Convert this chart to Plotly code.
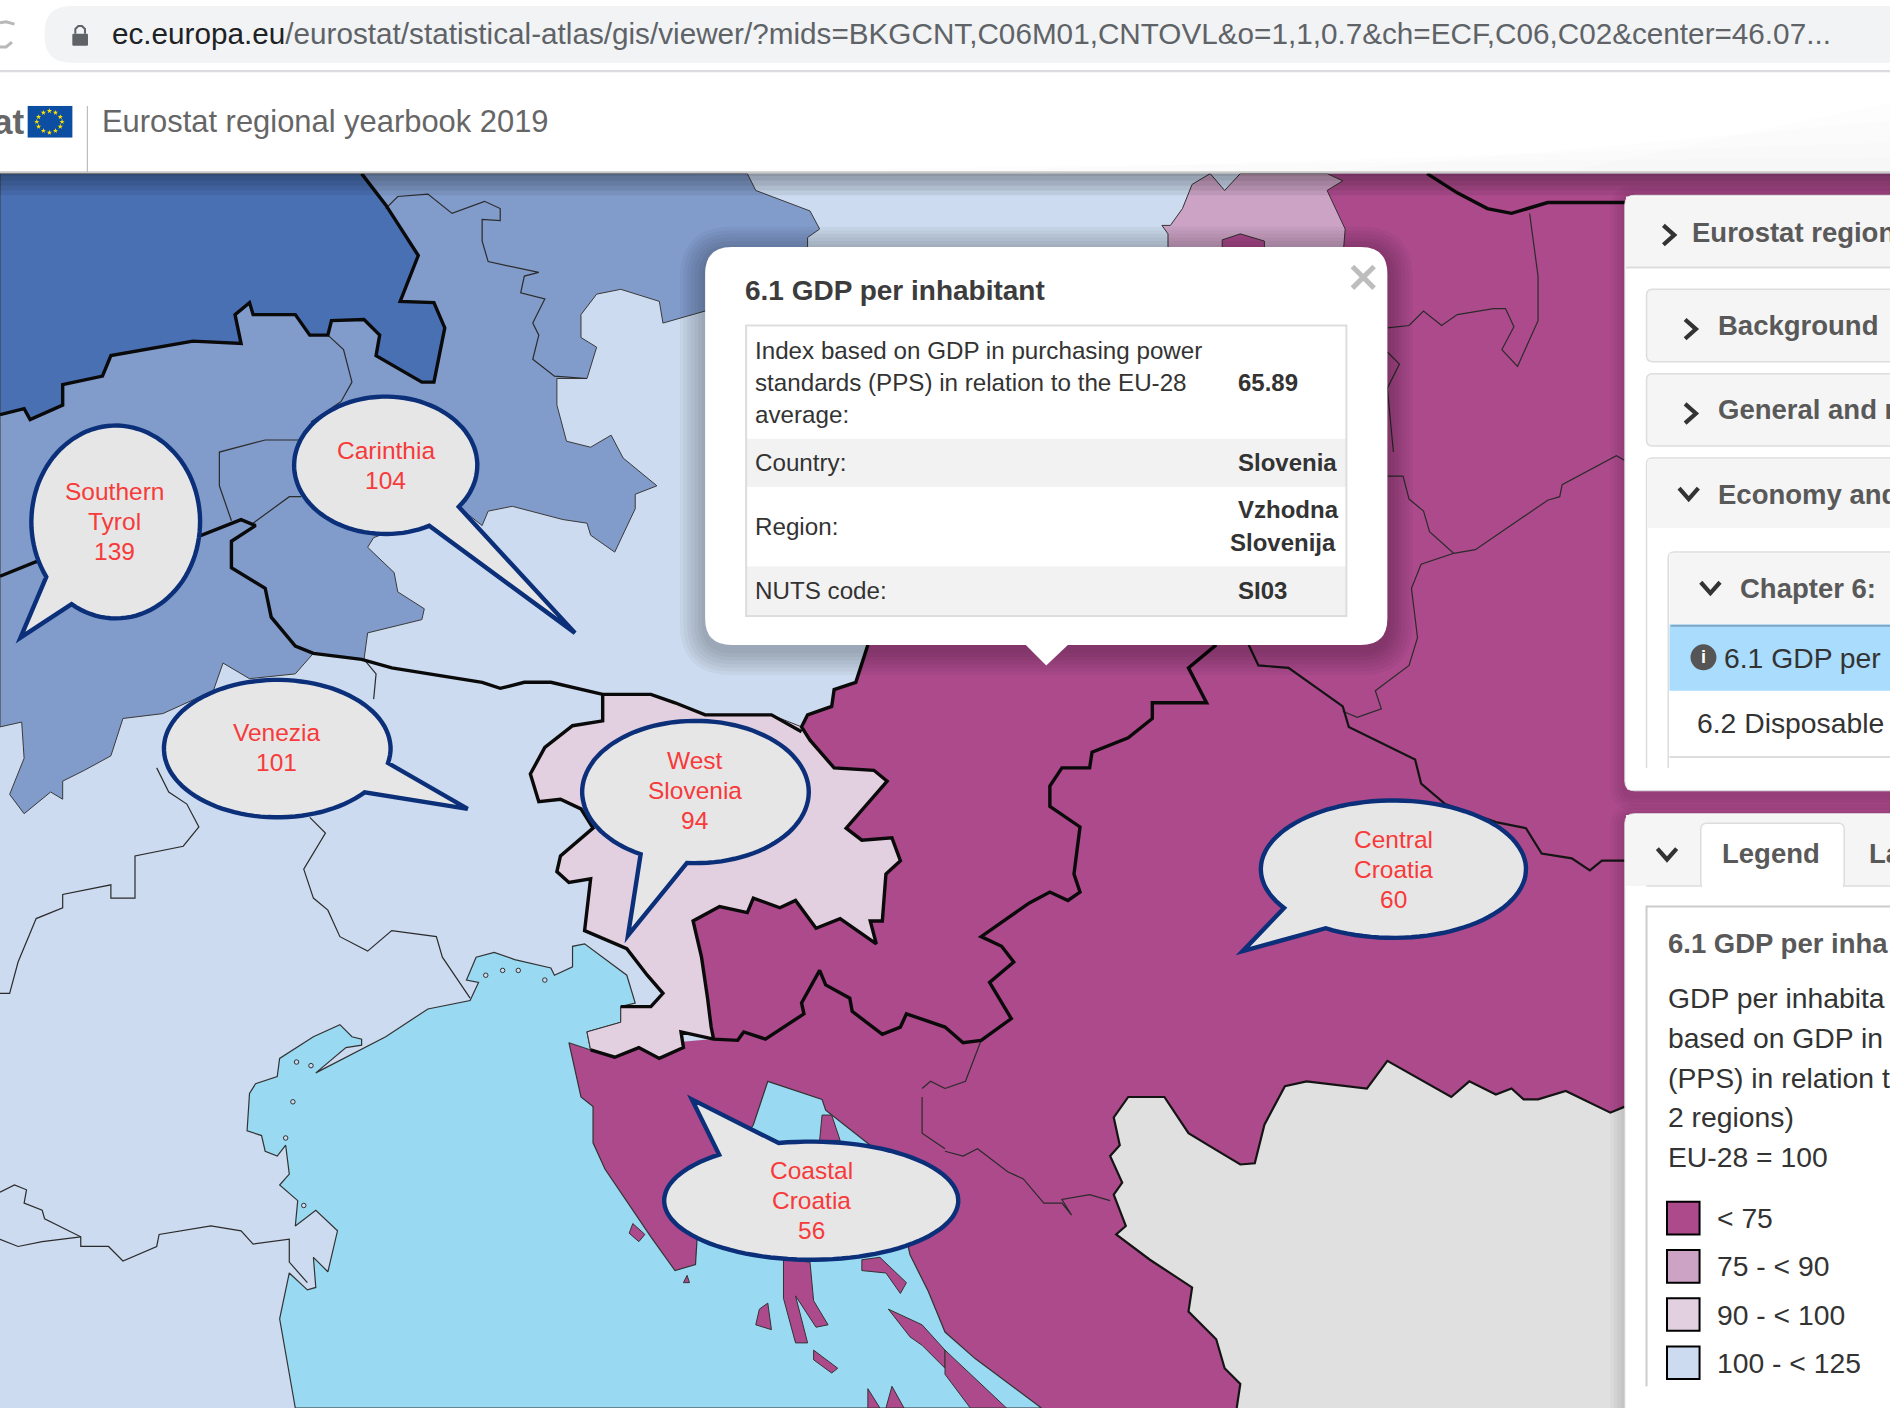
import math
import plotly.graph_objects as go

# ---- map regions, in screen units of the source picture ----
CANVAS_W, CANVAS_H = 1568, 1168
MAP_TOP = 144
COL_LT75, COL_75, COL_90, COL_100, COL_125, COL_150 = "#AC4A8C", "#CCA3C5", "#E2CFE0", "#CCDBEF", "#819BCB", "#4A70B4"
COL_SEA, COL_GREY = "#99D9F2", "#E0E0E0"

land_purple = [(1101,144),(1568,144),(1568,1168),(520,1168),(472,865),(490,871),(592,862),(575,764),(665,608),(670,593),(690,586),(692,572),(710,566),(720,535),(1000,400),(1000,215)]
land_pink = [(969,215),(969,194),(964,187),(971,187),(981,173),(989,153),(1004,144),(1016,158),(1029,144),(1101,144),(1114,150),(1101,158),(1116,190),(1114,215)]
land_pink_hole = [(1014,199),(1029,194),(1049,200),(1049,215),(1014,215)]
land_mid = [(300,144),(620,144),(627,158),(672,175),(680,190),(670,197),(670,215),(585,258),(550,268),(547,250),(515,240),(495,244),(482,261),(482,280),(495,288),(487,314),(462,314),(462,336),(470,366),(490,371),(507,361),(517,380),(545,403),(527,410),(527,422),(510,458),(490,444),(487,434),(467,431),(425,420),(405,424),(400,436),(380,420),(310,446),(305,454),(327,475),(330,491),(352,505),(350,514),(305,525),(302,547),(260,542),(245,559),(207,563),(185,550),(177,573),(135,592),(102,596),(92,627),(70,639),(52,648),(52,663),(42,657),(20,675),(8,659),(20,629),(18,599),(0,603),(0,144)]
land_dark = [(0,144),(300,144),(320,170),(347,212),(332,250),(360,251),(369,272),(360,317),(350,317),(312,295),(315,278),(302,265),(275,266),(272,278),(257,278),(245,261),(210,261),(207,251),(195,261),(200,285),(160,283),(92,295),(85,312),(52,319),(52,336),(25,348),(20,339),(0,344)]
land_grey = [(1348,918),(1336,923),(1299,905),(1276,912),(1264,912),(1254,903),(1241,908),(1219,897),(1204,910),(1174,893),(1151,880),(1134,903),(1084,897),(1066,901),(1049,933),(1041,965),(1029,966),(1004,951),(986,940),(966,910),(936,910),(924,927),(929,950),(921,959),(931,981),(924,991),(934,1017),(926,1024),(954,1045),(989,1068),(986,1088),(1009,1111),(1016,1135),(1029,1148),(1026,1168),(1348,1168)]
sea = [(245,1168),(232,1094),(240,1056),(255,1070),(262,1068),(260,1043),(272,1055),(280,1021),(262,1004),(245,1017),(247,996),(232,983),(240,974),(237,950),(230,959),(220,955),(217,942),(205,938),(207,907),(212,899),(230,893),(232,878),(260,860),(282,850),(292,860),(300,862),(300,867),(287,869),(262,890),(320,860),(355,837),(390,830),(397,815),(387,813),(395,794),(410,790),(427,796),(457,803),(460,809),(475,802),(475,785),(485,783),(520,809),(527,832),(515,835),(515,848),(487,856),(490,871),(472,865),(482,910),(492,918),(492,948),(502,970),(540,1026),(560,1054),(577,1049),(580,1000),(625,933),(637,897),(682,912),(685,921),(722,950),(740,974),(755,1041),(770,1071),(784,1105),(809,1127),(864,1168)]
west_slovenia = [(500,576),(500,598),(475,602),(452,620),(440,642),(447,665),(465,663),(482,671),(492,687),(465,710),(462,723),(472,732),(490,729),(485,772),(520,787),(537,809),(550,824),(540,835),(515,835),(515,848),(487,856),(490,871),(510,877),(530,869),(547,878),(567,869),(565,856),(592,862),(590,852),(587,828),(582,794),(575,764),(597,752),(620,757),(625,745),(647,753),(660,747),(677,770),(697,762),(727,783),(722,764),(732,764),(735,725),(747,714),(740,695),(715,697),(702,687),(736,648),(725,639),(692,637),(672,614),(665,603),(640,593),(585,593),(560,583),(540,576)]
islands = [
    [(682,925),(690,925),(697,946),(680,946)],
    [(650,1045),(672,1047),(675,1079),(687,1099),(677,1101),(660,1075),(670,1114),(660,1114),(650,1077)],
    [(715,1045),(730,1043),(752,1064),(747,1073),(735,1056),(715,1054)],
    [(737,1086),(765,1099),(784,1120),(784,1135),(765,1116),(755,1109)],
    [(630,1086),(637,1081),(640,1103),(627,1099)],
    [(525,1015),(535,1024),(530,1030),(522,1023)],
    [(570,1058),(572,1064),(567,1064)],
    [(675,1120),(695,1135),(690,1139),(675,1128)],
    [(740,1150),(750,1168),(735,1168)],
    [(720,1152),(730,1168),(720,1168)],
    [(784,1120),(800,1135),(835,1168),(805,1168),(784,1140)],
]
lagoon_isles_x = [403,417,430,452,246,258,243,237,252]
lagoon_isles_y = [809,805,805,813,881,884,914,944,1000]

borders_thick = [
    [(0,344),(20,339),(25,348),(52,336),(52,319),(85,312),(92,295),(160,283),(200,285),(195,261),(207,251),(210,261),(245,261),(257,278),(272,278),(275,266),(302,265),(315,278),(312,295),(350,317),(360,317),(369,272),(360,251),(332,250),(347,212),(320,170),(300,144)],
    [(0,478),(30,466),(167,444),(200,431),(212,436),(192,449),(192,471),(220,488),(225,512),(245,536),(260,542),(300,547),(325,554),(400,566),(415,571),(435,566),(457,566),(500,576),(540,576),(560,583),(585,593),(640,593),(665,607)],
    [(500,576),(500,598),(475,602),(452,620),(440,642),(447,665),(465,663),(482,671),(492,687),(465,710),(462,723),(472,732),(490,729),(485,772),(520,787),(537,809),(550,824),(540,835),(515,835)],
    [(490,871),(510,877),(530,869),(547,878),(567,869),(565,856),(592,862),(612,863),(617,856),(635,862),(667,841),(665,832),(680,805),(685,817),(705,828),(707,839),(732,858),(747,852),(752,841),(784,852),(799,865),(814,863),(839,845),(821,815),(841,798),(831,785),(814,777),(854,749),(871,740),(886,747),(896,740),(891,725),(896,686),(871,669),(871,652),(881,637),(904,637),(906,624),(936,612),(956,596),(956,583),(976,583),(1001,583),(986,554),(1009,535)],
    [(592,862),(590,852),(587,828),(582,794),(575,764),(597,752),(620,757),(625,745),(647,753),(660,747),(677,770),(697,762),(727,783),(722,764),(732,764),(735,725),(747,714),(740,695),(715,697),(702,687),(736,648),(725,639),(692,637),(672,614),(665,603),(670,593),(690,586),(692,572),(710,566),(720,535)],
    [(1184,144),(1209,160),(1234,173),(1254,177),(1284,168),(1348,168)],
]
borders_medium = [
    [(1036,535),(1044,552),(1069,554),(1114,586),(1119,603),(1174,630),(1179,650),(1199,667),(1241,682),(1266,687),(1279,708),(1304,712),(1319,722),(1329,714),(1348,714)],
    [(1348,918),(1336,923),(1299,905),(1276,912),(1264,912),(1254,903),(1241,908),(1219,897),(1204,910),(1174,893),(1151,880),(1134,903),(1084,897),(1066,901),(1049,933),(1041,965),(1029,966),(1004,951),(986,940),(966,910),(936,910),(924,927),(929,950),(921,959),(931,981),(924,991),(934,1017),(926,1024),(954,1045),(989,1068),(986,1088),(1009,1111),(1016,1135),(1029,1148),(1026,1168)],
]
borders_thin = [
    [(272,278),(285,290),(292,317),(283,333),(258,350)],
    [(250,365),(220,365),(182,375),(182,403),(192,432)],
    [(210,434),(240,412),(250,412)],
    [(320,173),(330,163),(355,161),(375,177),(402,167),(415,173),(415,183),(400,182),(400,200),(405,217),(447,226),(435,229),(432,243),(452,248),(442,268),(447,278),(442,298),(460,312),(487,314)],
    [(302,547),(312,559),(310,580)],
    [(257,678),(270,691),(252,721),(260,745),(272,755),(282,777),(305,789),(325,772),(362,777),(367,794),(390,828)],
    [(130,637),(140,657),(155,667),(165,686),(152,702),(112,710),(112,745),(92,745),(92,734),(52,742),(52,753),(30,762),(15,798),(8,824),(0,824)],
    [(0,989),(12,983),(22,987),(20,998),(35,1004),(37,1011),(67,1026),(67,1034),(90,1034),(102,1046),(130,1034),(132,1024),(175,1017),(200,1021),(210,1032),(240,1028),(240,1047),(255,1064)],
    [(0,1028),(15,1034),(35,1030),(67,1026)],
    [(1151,272),(1169,270),(1181,258),(1196,270),(1209,261),(1239,256),(1249,256),(1256,271),(1246,290),(1259,304),(1276,266),(1276,229),(1269,177)],
    [(1151,395),(1164,395),(1169,414),(1181,424),(1186,441),(1206,459),(1179,468),(1171,488),(1176,529),(1169,552),(1141,573),(1146,588),(1126,595),(1114,590)],
    [(1206,459),(1224,456),(1284,415),(1294,412),(1296,402),(1341,378),(1348,382)],
    [(1151,292),(1161,302),(1151,322),(1156,375)],
    [(784,955),(799,959),(811,953),(836,972),(849,978),(866,998),(881,998),(889,1008),(881,995),(904,991),(921,996)],
    [(784,903),(801,897),(814,863)],
    [(765,910),(765,940),(784,953)],
    [(765,903),(772,897),(784,903)],
]

# ---- callout texts and values ----
bubble_lines = [["Southern","Tyrol","139"],["Carinthia","104"],["Venezia","101"],["West","Slovenia","94"],["Central","Croatia","60"],["Coastal","Croatia","56"]]

# ---- interface text ----
URL_HOST = "ec.europa.eu"
URL_PATH = "/eurostat/statistical-atlas/gis/viewer/?mids=BKGCNT,C06M01,CNTOVL&amp;o=1,1,0.7&amp;ch=ECF,C06,C02&amp;center=46.07..."
SITE_TITLE = "Eurostat regional yearbook 2019"
POPUP_TITLE = "6.1 GDP per inhabitant"
popup_labels = ["Index based on GDP in purchasing power","standards (PPS) in relation to the EU-28","average:","Country:","Region:","NUTS code:"]
popup_values = ["65.89","Slovenia","Vzhodna","Slovenija","SI03"]
panel_headers = ["Eurostat region","Background","General and r","Economy and","Chapter 6:","Legend","La","6.1 GDP per inha"]
panel_plain = ["6.1 GDP per","6.2 Disposable","GDP per inhabita","based on GDP in","(PPS) in relation t","2 regions)","EU-28 = 100"]
legend_labels = ["< 75","75 - < 90","90 - < 100","100 - < 125"]
legend_colours = [COL_LT75, COL_75, COL_90, COL_100]

# ---- layout of the callouts and the text above ----
bubble_centres = [(96,433),(320,386),(230,621),(577,657),(1156,721),(673,996)]
bubble_text_centres = [(95,432.5),(320,386),(229.5,620),(576.5,656),(1156,721),(673,996)]
bubble_radii = [(70,80),(76,57),(94,57),(94,59),(110,57),(122,49)]
bubble_tips = [(17,529),(477,525),(388,671),(521,776),(1031,789),(574,912)]
bubble_bases = [((39,478),(59,502)),((380,420),(356,436)),((322,633),(302,657)),((532,708),(570,715)),((1066,753),(1100,770)),((599,959),(647,950))]
popup_label_y = [291,317,344,384,437,490]
popup_value_xy = [(1027,317),(1027,384),(1027,423),(1021,450),(1027,490)]
panel_header_xy = [(1404,193),(1425.5,270),(1425.5,340),(1425.5,410),(1444,488),(1429,708),(1551,708),(1384,783)]
panel_plain_xy = [(1431,546),(1408,600),(1384,828),(1384,861),(1384,894),(1384,927),(1384,960)]
legend_tops = [997,1037,1077,1117]

FONT = "Liberation Sans"
fig = go.Figure()

def poly(pts, fill, line="#333333", w=1.0):
    fig.add_trace(go.Scatter(x=[p[0] for p in pts]+[pts[0][0]], y=[p[1] for p in pts]+[pts[0][1]],
                             mode="lines", fill="toself", fillcolor=fill, hoverinfo="skip",
                             line=dict(color=line if w else fill, width=w or 0.1), showlegend=False))

def path(pts, colour, w):
    fig.add_trace(go.Scatter(x=[p[0] for p in pts], y=[p[1] for p in pts], mode="lines", hoverinfo="skip",
                             line=dict(color=colour, width=w), showlegend=False))

poly([(0,MAP_TOP),(CANVAS_W,MAP_TOP),(CANVAS_W,CANVAS_H),(0,CANVAS_H)], COL_100, w=0)
poly(land_purple, COL_LT75, w=0)
poly(land_pink, COL_75)
poly(land_pink_hole, COL_LT75)
poly(land_mid, COL_125, "#3a3a3a", 1.0)
poly(land_dark, COL_150, "#3a3a3a", 1.0)
poly(land_grey, COL_GREY, w=0)
poly(sea, COL_SEA, "#333333", 1.2)
for isl in islands:
    poly(isl, COL_LT75, "#333333", 1.0)
poly(west_slovenia, COL_90, "#333333", 1.0)
for b in borders_thin:
    path(b, "#2b2b2b", 1.2)
for b in borders_medium:
    path(b, "#141414", 2.2)
for b in borders_thick:
    path(b, "#0a0a0a", 3.4)
fig.add_trace(go.Scatter(x=lagoon_isles_x, y=lagoon_isles_y, mode="markers", hoverinfo="skip", showlegend=False,
                         marker=dict(size=4.5, color=COL_100, line=dict(color="#333333", width=1))))
# flag in the header
poly([(23,88),(60,88),(60,114),(23,114)], "#0B4EA2", w=0)
fig.add_trace(go.Scatter(x=[41,46,50,51.5,50,46,41,36,32,30.5,32,36], y=[92,93.5,97,101,105,108.5,110,108.5,105,101,97,93.5],
                         mode="markers", hoverinfo="skip", showlegend=False, marker=dict(symbol="star", size=4, color="#FFE100")))
fig.add_trace(go.Scatter(x=[1557], y=[28], mode="markers", hoverinfo="skip", showlegend=False,
                         marker=dict(symbol="star-open", size=25, color="#5F6368", line=dict(width=2, color="#5F6368"))))

shapes = []
def rrect(x0,y0,x1,y1,r=0):
    if not r:
        return f"M{x0},{y0}L{x1},{y0}L{x1},{y1}L{x0},{y1}Z"
    return (f"M{x0+r},{y0}L{x1-r},{y0}Q{x1},{y0} {x1},{y0+r}L{x1},{y1-r}Q{x1},{y1} {x1-r},{y1}"
            f"L{x0+r},{y1}Q{x0},{y1} {x0},{y1-r}L{x0},{y0+r}Q{x0},{y0} {x0+r},{y0}Z")
def box(x0,y0,x1,y1,fill="rgba(0,0,0,0)",line=None,w=1,r=0):
    shapes.append(dict(type="path", path=rrect(x0,y0,x1,y1,r), fillcolor=fill, layer="above",
                       line=dict(color=line or "rgba(0,0,0,0)", width=w if line else 0), xref="x", yref="y"))
def stroke(pts, colour, w):
    d = "M"+"L".join(f"{x},{y}" for x,y in pts)
    shapes.append(dict(type="path", path=d, line=dict(color=colour,width=w), layer="above", xref="x", yref="y"))
def shadow(x0,y0,x1,y1,r=0,n=7,a=0.035,step=3):
    for i in range(n,0,-1):
        e=i*step
        box(x0-e,y0-e+4,x1+e,y1+e+4,fill=f"rgba(0,0,0,{a})",r=r+e)

# header sheen: faint wedges rising to the right
for x_start,y_top in [(500,130),(800,118),(1100,100),(1300,85)]:
    shapes.append(dict(type="path",path=f"M{x_start},142L1568,{y_top}L1568,142Z",fillcolor="rgba(0,0,0,0.009)",
                       line=dict(width=0),layer="above",xref="x",yref="y"))
for i in range(5):
    box(0,MAP_TOP-1,CANVAS_W,MAP_TOP+2+i*4,fill="rgba(0,0,0,0.07)")
box(0,58,CANVAS_W,60,fill="#DADCE0")
box(37,5,1600,52,fill="#F1F3F4",r=22)
box(0,142,CANVAS_W,144,fill="#C9C9C9")
box(72,88,73,143,fill="#BDBDBD")
# reload icon, lock
stroke([(12,20),(5,18),(0,19)],"#B8B8B8",3)
stroke([(0,39),(5,39),(10,35)],"#B8B8B8",3)
box(60,28,73,38,fill="#5F6368",r=1)
stroke([(62.5,28),(62.5,24),(65,21.5),(68,21.5),(70.5,24),(70.5,28)],"#5F6368",2)

# callouts
for (cx,cy),(rx,ry),tip,(b1,b2) in zip(bubble_centres,bubble_radii,bubble_tips,bubble_bases):
    a1=math.atan2((b1[1]-cy)/ry,(b1[0]-cx)/rx); a2=math.atan2((b2[1]-cy)/ry,(b2[0]-cx)/rx)
    d=(a1-a2)%(2*math.pi)
    if d<math.pi: d-=2*math.pi
    pts=[(cx+rx*math.cos(a2+d*t/96), cy+ry*math.sin(a2+d*t/96)) for t in range(97)]
    dstr=f"M{tip[0]},{tip[1]}"+"".join(f"L{x:.1f},{y:.1f}" for x,y in pts)+"Z"
    shapes.append(dict(type="path",path=dstr,fillcolor="#E6E6E6",line=dict(color="#0B2F78",width=4.4),layer="above",xref="x",yref="y"))

# popup
shadow(585,205,1151,535,r=22)
box(585,205,1151,535,fill="#FFFFFF",r=22)
shapes.append(dict(type="path",path="M850,534L887,534L868,552Z",fillcolor="#FFFFFF",line=dict(width=0),layer="above",xref="x",yref="y"))
box(619,364,1117,404,fill="#F2F2F2")
box(619,470,1117,511,fill="#F2F2F2")
box(619,270,1117,511,line="#DDDDDD",w=2)
stroke([(1122,221),(1140,239)],"#BDBDBD",5)
stroke([(1140,221),(1122,239)],"#BDBDBD",5)

# right-hand panels
shadow(1348,162,1600,656,r=8,n=4,a=0.03)
box(1348,162,1600,656,fill="#FFFFFF",line="#DDDDDD",w=1,r=8)
box(1349,163,1600,222,fill="#F5F5F5",r=0)
stroke([(1349,222),(1568,222)],"#DDDDDD",2)
for y0,y1 in [(240,300),(310,370)]:
    box(1366,y0,1600,y1,fill="#F5F5F5",line="#DDDDDD",w=1.5,r=5)
box(1366,380,1600,648,fill="#FFFFFF",line="#DDDDDD",w=1.5,r=5)
box(1367,381,1600,438,fill="#F5F5F5")
box(1384,458,1600,648,fill="#FFFFFF",line="#DDDDDD",w=1.5,r=5)
box(1385,459,1600,518,fill="#F5F5F5")
box(1385,518,1600,573,fill="#A9DCFD")
stroke([(1386,519),(1568,519)],"#7EA7C4",2)
stroke([(1385,628),(1568,628)],"#DDDDDD",2)
box(1350,637,1568,655,fill="#FFFFFF")
shadow(1348,675,1600,1200,r=8,n=4,a=0.03)
box(1348,675,1600,1200,fill="#FFFFFF",line="#DDDDDD",w=1,r=8)
box(1349,676,1600,735,fill="#F5F5F5")
box(1411,683,1530,737,fill="#FFFFFF",line="#DDDDDD",w=1.5,r=5)
box(1412,730,1529,740,fill="#FFFFFF")
stroke([(1366,735),(1411,735)],"#DDDDDD",1.5)
stroke([(1530,735),(1568,735)],"#DDDDDD",1.5)
stroke([(1366,1150),(1366,752),(1568,752)],"#CCCCCC",2)
for c,y in zip(legend_colours,legend_tops):
    box(1383,y,1410,y+27,fill=c,line="#000000",w=2)
# chevrons
for x,y in [(1385,195),(1403,273),(1403,343)]:
    stroke([(x-5,y-8),(x+4,y),(x-5,y+8)],"#333333",4.2)
for x,y in [(1401,410),(1419,488),(1383,709)]:
    stroke([(x-8,y-5),(x,y+4),(x+8,y-5)],"#333333",4.2)
shapes.append(dict(type="circle",x0=1402.5,x1=1424,y0=534.5,y1=556,fillcolor="#555555",line=dict(width=0),layer="above",xref="x",yref="y"))

def txt(t,x,y,size=25,col="#333333",anchor="left",shift=None):
    return dict(text=t,x=x,y=y,xref="x",yref="y",showarrow=False,xanchor=anchor,yanchor="middle",align=anchor,
                font=dict(family=FONT,size=size,color=col),xshift=(-2.4 if anchor=="left" else 0) if shift is None else shift)
ann=[]
ann.append(txt(f'<span style="color:#202124">{URL_HOST}</span><span style="color:#5F6368">{URL_PATH}</span>',93,28,29.7))
ann.append(txt("<b>at</b>",0,101,35,"#666666",shift=-9))
ann.append(txt(SITE_TITLE,85,101,30.9,"#666666"))
for lines,(cx,cy) in zip(bubble_lines,bubble_text_centres):
    n=len(lines)
    for i,l in enumerate(lines):
        ann.append(txt(l,cx,cy+(i-(n-1)/2)*25,24.5,"#F73A3A","center"))
ann.append(txt(f"<b>{POPUP_TITLE}</b>",618,241,28,"#3C3C3C"))
for t,y in zip(popup_labels,popup_label_y):
    ann.append(txt(t,627,y,24.2,"#333333"))
for t,(x,y) in zip(popup_values,popup_value_xy):
    ann.append(txt(f"<b>{t}</b>",x,y,24,"#333333"))
for t,(x,y) in zip(panel_headers,panel_header_xy):
    ann.append(txt(f"<b>{t}</b>",x,y,27.5,"#595959"))
for t,(x,y) in zip(panel_plain,panel_plain_xy):
    ann.append(txt(t,x,y,28.3,"#333333"))
for t,y in zip(legend_labels,legend_tops):
    ann.append(txt(t,1425,y+13.5,28.3,"#333333"))
ann.append(txt("<b>i</b>",1413,545,18,"#FFFFFF","center"))

fig.update_layout(width=1890,height=1408,autosize=False,margin=dict(l=0,r=0,t=0,b=0),
                  paper_bgcolor="#FFFFFF",plot_bgcolor="#FFFFFF",showlegend=False,shapes=shapes,annotations=ann,
                  xaxis=dict(range=[0,CANVAS_W],visible=False,fixedrange=True),
                  yaxis=dict(range=[CANVAS_H,0],visible=False,fixedrange=True),hovermode=False)
fig.write_html("out.html",config=dict(displayModeBar=False),post_script="document.body.style.margin='0';document.body.style.overflow='hidden';")
